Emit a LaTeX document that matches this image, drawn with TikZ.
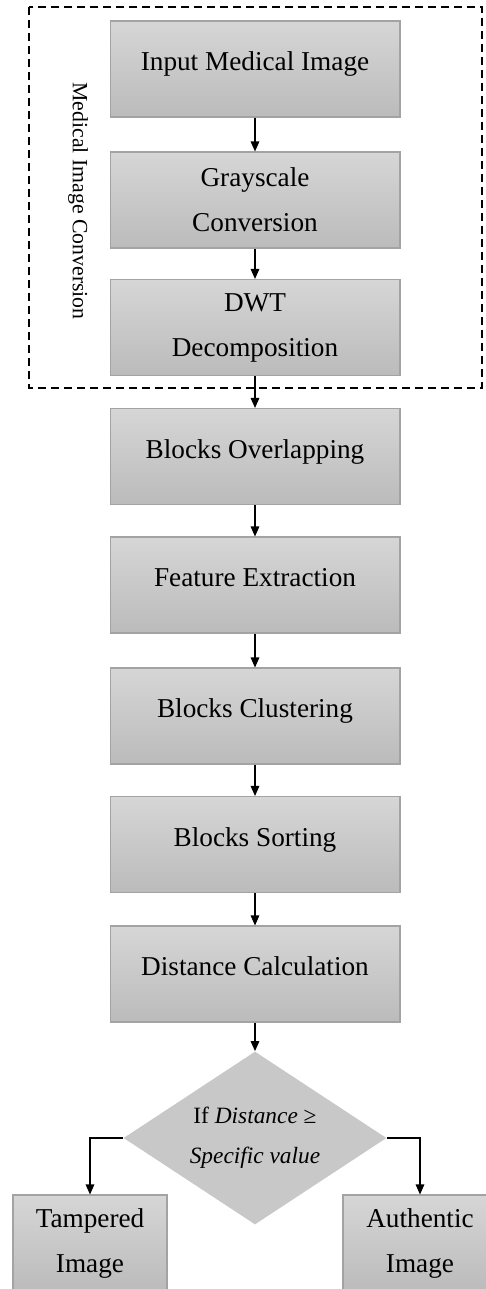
\documentclass[tikz,border=0pt]{standalone}
\usepackage{fontspec}
\setmainfont{Liberation Serif}
\usetikzlibrary{positioning, arrows.meta, shapes.geometric}

\definecolor{boxtop}{HTML}{D6D6D6}
\definecolor{boxbot}{HTML}{BBBBBB}
\definecolor{boxline}{HTML}{A3A3A3}
\definecolor{diafill}{HTML}{C8C8C8}

\tikzset{
  stage/.style={rectangle, draw=boxline, line width=0.6pt, top color=boxtop,
    bottom color=boxbot, minimum width=5.8cm, minimum height=1.92cm,
    inner sep=0pt, align=center, font=\fontsize{15.5}{25.6}\selectfont},
  oneline/.style={text height=10pt, text depth=8pt},
  result/.style={stage, minimum width=3.08cm},
  test/.style={diamond, fill=diafill, minimum width=5.26cm,
    minimum height=3.46cm, inner sep=0pt, aspect=1.52, align=center,
    font=\fontsize{13.3}{22.8}\selectfont},
  flow/.style={-{Triangle[length=0.2cm,width=0.17cm]}, line width=0.75pt},
  group/.style={dashed, dash pattern=on 0.16cm off 0.1cm, line width=0.6pt}
}

\begin{document}
\begin{tikzpicture}[x=0.02cm, y=-0.02cm]
        \useasboundingbox (0,0) rectangle (486,1289);
        \clip (0,0) rectangle (486,1289);

        \node[stage, oneline] (input)    at (255,69)    {Input Medical Image};
        \node[stage]          (gray)     at (255,200)   {Grayscale\\Conversion};
        \node[stage]          (dwt)      at (255,327.5) {DWT\\Decomposition};
        \node[stage, oneline] (overlap)  at (255,456.5) {Blocks Overlapping};
        \node[stage, oneline] (feature)  at (255,585)   {Feature Extraction};
        \node[stage, oneline] (cluster)  at (255,716)   {Blocks Clustering};
        \node[stage, oneline] (sorting)  at (255,844.5) {Blocks Sorting};
        \node[stage, oneline] (distance) at (255,974)   {Distance Calculation};

        \node[test] (check) at (255,1138) {If \textit{Distance} ≥\\\textit{Specific value}};

        \node[result] (tampered)  at (90,1243)  {Tampered\\Image};
        \node[result] (authentic) at (420,1243) {Authentic\\Image};

        % conversion group
        \draw[group] (29,7) rectangle (482,388);
        \node[rotate=-90, font=\fontsize{12.4}{15}\selectfont] (grouplabel)
              at (78,201) {Medical Image Conversion};

        \draw[flow] (input) -- (gray);
        \draw[flow] (gray) -- (dwt);
        \draw[flow] (dwt) -- (overlap);
        \draw[flow] (overlap) -- (feature);
        \draw[flow] (feature) -- (cluster);
        \draw[flow] (cluster) -- (sorting);
        \draw[flow] (sorting) -- (distance);
        \draw[flow] (distance) -- (check);

        \draw[flow] (check.west) -| (tampered.north);
        \draw[flow] (check.east) -| (authentic.north);

\end{tikzpicture}
\end{document}
